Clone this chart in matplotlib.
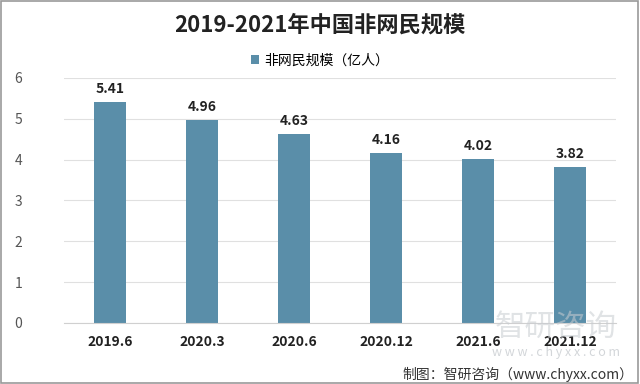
import matplotlib
matplotlib.use("Agg")
import matplotlib.pyplot as plt
from matplotlib.patches import Rectangle

plt.rcParams['font.family'] = ['Noto Sans CJK SC', 'DejaVu Sans']

categories = ['2019.6', '2020.3', '2020.6', '2020.12', '2021.6', '2021.12']
values = [5.41, 4.96, 4.63, 4.16, 4.02, 3.82]
title = '2019-2021年中国非网民规模'
series_name = '非网民规模（亿人）'
source = '制图：智研咨询（www.chyxx.com）'

bar_color = '#5a8ea9'

fig = plt.figure(figsize=(6.4, 3.84), dpi=100)
ax = fig.add_axes([0.1, 0.159, 0.8625, 0.638])

x = range(len(categories))
bars = ax.bar(x, values, width=0.35, color=bar_color, label=series_name, zorder=2)

for xi, v in zip(x, values):
    ax.text(xi, v + 0.15, f'{v:.2f}', ha='center', va='bottom', fontsize=10,
            fontweight='bold', color='#222222')

ax.set_xlim(-0.5, len(categories) - 0.5)
ax.set_ylim(0, 6)
ax.set_yticks(range(0, 7))
ax.set_xticks(list(x))
ax.set_xticklabels(categories, fontsize=10, fontweight='bold', color='#222222')
ax.tick_params(axis='y', labelsize=10, colors='#555555', length=0, pad=30)
ax.tick_params(axis='x', length=0, pad=9)
ax.grid(axis='y', color='#e0e0e0', linewidth=0.8, zorder=0)
for s in ['top', 'right', 'left']:
    ax.spines[s].set_visible(False)
ax.spines['bottom'].set_color('#d0d0d0')

fig.text(0.5, 0.935, title, ha='center', va='center', fontsize=16, fontweight='bold',
         color='#222222')
fig.legend(loc='center', bbox_to_anchor=(0.5, 0.842), frameon=False, fontsize=10,
           handlelength=0.6, handleheight=0.6, handletextpad=0.4)

# watermark (faint, behind the labels)
fig.text(0.868, 0.148, '智研咨询', ha='center', va='center', fontsize=22,
         color='#c8ccd0', alpha=0.55, zorder=0)
fig.text(0.868, 0.082, 'w w w . c h y x x . c o m', ha='center', va='center', fontsize=9,
         color='#c8ccd0', alpha=0.8, zorder=0)

fig.text(0.99, 0.025, source, ha='right', va='center', fontsize=10, color='#333333')

fig.patches.append(Rectangle((0.002, 0.003), 0.995, 0.994, transform=fig.transFigure,
                             fill=False, edgecolor='#999999', linewidth=1.2))

fig.savefig('out.png', dpi=100)
